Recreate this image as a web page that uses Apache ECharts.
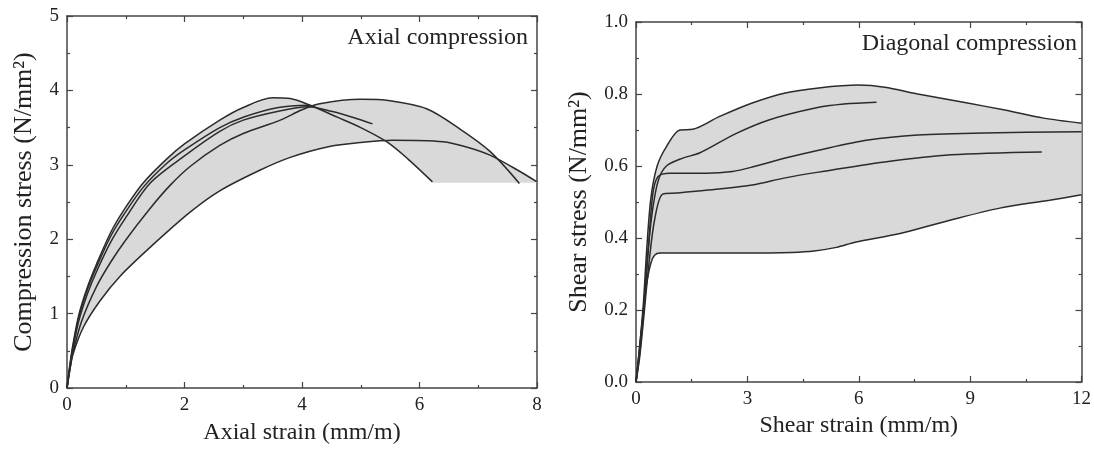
<!DOCTYPE html>
<html><head><meta charset="utf-8">
<script src="https://cdn.jsdelivr.net/npm/echarts@6/dist/echarts.min.js"></script>
<style>html,body{margin:0;padding:0;background:#fff}#c{width:1094px;height:450px}</style>
</head><body><div id="c"></div><script>
// ---------- Left panel: Axial compression (strain mm/m, stress N/mm2) ----------
const axialCurveA = [[0,0],[0.05,0.32],[0.1,0.58],[0.2,0.98],[0.35,1.36],[0.5,1.66],[0.75,2.1],[1,2.43],[1.3,2.76],[1.7,3.08],[2,3.28],[2.6,3.6],[3,3.77],[3.5,3.9],[3.8,3.89],[4.14,3.8],[4.6,3.64],[5,3.5],[5.44,3.31],[5.8,3.08],[6.22,2.77]];
const axialCurveE = [[0,0],[0.05,0.3],[0.1,0.55],[0.2,0.95],[0.35,1.33],[0.5,1.62],[0.75,2.05],[1,2.37],[1.3,2.7],[1.7,3.02],[2,3.2],[2.6,3.5],[3,3.64],[3.6,3.77],[4.14,3.8]];
const axialCurveD = [[0,0],[0.05,0.28],[0.1,0.52],[0.2,0.9],[0.35,1.27],[0.5,1.56],[0.75,1.97],[1,2.29],[1.41,2.75],[2,3.12],[2.6,3.45],[3,3.6],[3.6,3.72],[4.1,3.78],[4.5,3.72],[4.9,3.63],[5.2,3.55]];
const axialCurveB = [[0,0],[0.05,0.25],[0.1,0.47],[0.25,0.9],[0.5,1.36],[0.75,1.7],[1,1.99],[1.4,2.4],[1.75,2.72],[2.1,2.98],[2.6,3.26],[3,3.42],[3.63,3.6],[4,3.74],[4.3,3.82],[5,3.88],[5.5,3.86],[6.13,3.75],[6.69,3.48],[7.2,3.18],[7.7,2.75]];
const axialCurveC = [[0,0],[0.05,0.25],[0.1,0.45],[0.28,0.82],[0.56,1.17],[0.9,1.5],[1.4,1.88],[2.09,2.36],[2.6,2.65],[3.29,2.93],[3.8,3.1],[4.43,3.24],[5,3.3],[5.55,3.33],[6.4,3.31],[6.8,3.24],[7.2,3.13],[7.71,2.91],[8,2.77]];
const axialFloor = [[6.22,2.76],[8,2.76]];
const axialXTicks = {min:0, max:8, interval:2};
const axialYTicks = {min:0, max:5, interval:1};

// ---------- Right panel: Diagonal compression (shear strain mm/m, shear stress N/mm2) ----------
const shearCurveU = [[0,0],[0.1,0.1],[0.2,0.22],[0.29,0.37],[0.4,0.51],[0.57,0.6],[0.82,0.654],[1.18,0.7],[1.53,0.702],[2.24,0.737],[3.13,0.775],[4.02,0.803],[4.92,0.817],[5.99,0.825],[6.7,0.819],[7.59,0.8],[8.93,0.775],[9.9,0.756],[10.98,0.733],[12,0.719]];
const shearCurveR1 = [[0,0],[0.1,0.09],[0.2,0.2],[0.32,0.36],[0.45,0.48],[0.6,0.56],[0.82,0.6],[1.26,0.622],[1.71,0.636],[2.69,0.69],[3.58,0.728],[4.83,0.761],[5.6,0.772],[6.48,0.777]];
const shearCurveR2 = [[0,0],[0.1,0.08],[0.2,0.19],[0.32,0.35],[0.45,0.52],[0.59,0.57],[0.91,0.58],[1.9,0.58],[2.6,0.585],[3.13,0.597],[4.02,0.622],[4.92,0.644],[6.25,0.672],[7.59,0.686],[9.38,0.692],[12,0.695]];
const shearCurveR3 = [[0,0],[0.1,0.07],[0.2,0.17],[0.35,0.33],[0.5,0.45],[0.72,0.522],[1.1,0.525],[2.24,0.536],[3.13,0.547],[4.02,0.567],[4.92,0.583],[6.7,0.611],[8.48,0.631],[10.93,0.639]];
const shearCurveL = [[0,0],[0.1,0.1],[0.2,0.2],[0.29,0.275],[0.4,0.33],[0.5,0.352],[0.65,0.358],[3,0.358],[4.2,0.36],[4.8,0.364],[5.4,0.374],[5.9,0.388],[7.14,0.413],[8.48,0.45],[9.8,0.483],[11.14,0.505],[12,0.52]];
const shearXTicks = {min:0, max:12, interval:3};
const shearYTicks = {min:0, max:1, interval:0.2};

const axialCurves = [axialCurveA, axialCurveE, axialCurveD, axialCurveB, axialCurveC];
const shearCurves = [shearCurveU, shearCurveR1, shearCurveR2, shearCurveR3, shearCurveL];

// ---------- envelope (shaded band) built from the curves ----------
function interp(c, x) {
  if (x < c[0][0] || x > c[c.length - 1][0]) return null;
  for (let i = 1; i < c.length; i++) {
    if (x <= c[i][0]) {
      const [x0, y0] = c[i - 1], [x1, y1] = c[i];
      return x1 === x0 ? y1 : y0 + (y1 - y0) * (x - x0) / (x1 - x0);
    }
  }
  return c[c.length - 1][1];
}
function envelope(curves, lowerExtra, xmax) {
  const set = new Set();
  curves.concat(lowerExtra).forEach(c => c.forEach(p => set.add(p[0])));
  for (let i = 0; i <= 400; i++) set.add(+(xmax * i / 400).toFixed(4));
  const xs = Array.from(set).filter(x => x >= 0 && x <= xmax).sort((a, b) => a - b);
  const up = [], lo = [];
  xs.forEach(x => {
    const vals = curves.map(c => interp(c, x)).filter(v => v !== null);
    const lv = vals.concat(lowerExtra.map(c => interp(c, x)).filter(v => v !== null));
    if (!vals.length) return;
    up.push([x, Math.max.apply(null, vals)]);
    lo.push([x, Math.min.apply(null, lv)]);
  });
  return {up, lo};
}
const axialBand = envelope(axialCurves, [axialFloor], 8);
const shearBand = envelope(shearCurves, [], 12);

const FONT = 'Liberation Serif';
const LINE = '#2b2b2b';
const AX = '#444';
const FILL = '#d9d9d9';

function bandSeries(band, xi, yi) {
  return {
    type: 'custom', xAxisIndex: xi, yAxisIndex: yi, silent: true, z: 1,
    data: [[0, 0]],
    renderItem: function (params, api) {
      if (params.dataIndex !== 0) return;
      const pts = band.up.map(p => api.coord(p)).concat(band.lo.slice().reverse().map(p => api.coord(p)));
      return {type: 'polygon', shape: {points: pts}, style: {fill: FILL, stroke: null}};
    }
  };
}
function lineSeries(data, xi, yi) {
  return {
    type: 'line', xAxisIndex: xi, yAxisIndex: yi, data: data, showSymbol: false, symbol: 'none',
    smooth: 0.3, z: 3, silent: true,
    lineStyle: {color: LINE, width: 1.5}
  };
}
function axisBase(t, extra) {
  return Object.assign({
    type: 'value', min: t.min, max: t.max, interval: t.interval,
    axisLine: {show: true, onZero: false, lineStyle: {color: AX, width: 1.5}},
    axisTick: {show: true, inside: true, length: 6, lineStyle: {color: AX, width: 1.2}},
    minorTick: {show: true, splitNumber: 2, length: 3, lineStyle: {color: AX, width: 1.2}},
    splitLine: {show: false}, minorSplitLine: {show: false},
    axisLabel: {show: true, color: '#222', fontFamily: FONT, fontSize: 19, margin: 8},
    nameTextStyle: {color: '#222', fontFamily: FONT, fontSize: 24},
    nameLocation: 'middle'
  }, extra);
}
const noLabel = {axisLabel: {show: false}};
const yNameStyle = {color: '#222', fontFamily: FONT, fontSize: 26};

const option = {
  animation: false,
  backgroundColor: '#fff',
  title: [
    {text: 'Axial compression', right: 566, top: 26, padding: 0, textStyle: {fontFamily: FONT, fontSize: 24, fontWeight: 'normal', color: '#222'}},
    {text: 'Diagonal compression', right: 17, top: 32, padding: 0, textStyle: {fontFamily: FONT, fontSize: 24, fontWeight: 'normal', color: '#222'}}
  ],
  grid: [
    {left: 67, top: 16, width: 470, height: 376},
    {left: 636, top: 22, width: 449, height: 360}
  ],
  xAxis: [
    axisBase(axialXTicks, {gridIndex: 0, position: 'bottom', name: 'Axial strain (mm/m)', nameGap: 33}),
    axisBase(axialXTicks, Object.assign({gridIndex: 0, position: 'top'}, noLabel)),
    axisBase(shearXTicks, {gridIndex: 1, position: 'bottom', name: 'Shear strain (mm/m)', nameGap: 32}),
    axisBase(shearXTicks, Object.assign({gridIndex: 1, position: 'top'}, noLabel))
  ],
  yAxis: [
    axisBase(axialYTicks, {gridIndex: 0, position: 'left', name: 'Compression stress (N/mm²)', nameGap: 30, nameTextStyle: yNameStyle}),
    axisBase(axialYTicks, Object.assign({gridIndex: 0, position: 'right'}, noLabel)),
    axisBase(shearYTicks, {gridIndex: 1, position: 'left', name: 'Shear stress (N/mm²)', nameGap: 44, nameTextStyle: yNameStyle,
      axisLabel: {show: true, color: '#222', fontFamily: FONT, fontSize: 19, margin: 8, formatter: v => v.toFixed(1)}}),
    axisBase(shearYTicks, Object.assign({gridIndex: 1, position: 'right'}, noLabel))
  ],
  series: [bandSeries(axialBand, 0, 0)]
    .concat(axialCurves.map(c => lineSeries(c, 0, 0)))
    .concat([bandSeries(shearBand, 2, 2)])
    .concat(shearCurves.map(c => lineSeries(c, 2, 2)))
};
const chart = echarts.init(document.getElementById('c'), null, {renderer: 'canvas'});
chart.setOption(option);
</script></body></html>
